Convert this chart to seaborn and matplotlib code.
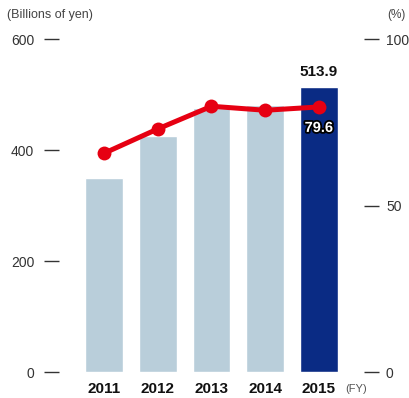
import numpy as np
import pandas as pd
import matplotlib
matplotlib.use("Agg")
import matplotlib.pyplot as plt
import matplotlib.patheffects as pe
import seaborn as sns

# Data
years = ["2011", "2012", "2013", "2014", "2015"]
sales = [349, 425, 476, 481, 513.9]          # billions of yen
ratio = [65.7, 73.0, 79.8, 78.6, 79.6]        # percent
left_ticks = [0, 200, 400, 600]
right_ticks = [0, 50, 100]

light_blue = "#b9ceda"
navy = "#0a2b84"
red = "#e60012"
tick_gray = "#333333"

sns.set_theme(style="white")
plt.rcParams["font.family"] = ["Liberation Sans", "DejaVu Sans"]
narrow = ["Liberation Sans Narrow", "Liberation Sans", "DejaVu Sans"]

df = pd.DataFrame({"year": years, "sales": sales, "ratio": ratio})
bar_colors = [light_blue] * (len(years) - 1) + [navy]

fig = plt.figure(figsize=(4.10, 3.98), dpi=100)
ax = fig.add_axes([0.1439, 0.0653, 0.8878 - 0.1439, 0.902 - 0.0653])

sns.barplot(data=df, x="year", y="sales", hue="year", palette=bar_colors,
            legend=False, width=0.7, saturation=1, ax=ax)
ax.set_ylim(0, 600)
ax.set_xlim(-0.84, len(years) - 1 + 0.84)
ax.set_yticks(left_ticks)
ax.set_yticklabels([str(t) for t in left_ticks])
ax.set_xlabel("")
ax.set_ylabel("")
for s in ax.spines.values():
    s.set_visible(False)
ax.tick_params(axis="y", left=True, direction="out", length=10.8, width=1.0,
               color=tick_gray, pad=7, labelsize=10, labelcolor=tick_gray)
ax.tick_params(axis="x", bottom=False, length=0, pad=7)
for lab in ax.get_xticklabels():
    lab.set_fontfamily(narrow)
    lab.set_fontweight("bold")
    lab.set_fontsize(11)
    lab.set_color("#111111")

# Ratio line on the secondary axis
ax2 = ax.twinx()
xpos = np.arange(len(years))
sns.lineplot(x=xpos, y=df["ratio"], color=red, linewidth=3.6, marker="o",
             markersize=10, markeredgewidth=0, ax=ax2)
ax2.set_ylim(0, 100)
ax2.set_xlim(ax.get_xlim())
ax2.set_yticks(right_ticks)
ax2.set_yticklabels([str(t) for t in right_ticks])
ax2.set_ylabel("")
for s in ax2.spines.values():
    s.set_visible(False)
ax2.tick_params(axis="y", right=True, direction="out", length=10.8, width=1.0,
                color=tick_gray, pad=5, labelsize=10, labelcolor=tick_gray)
ax2.grid(False)
ax.grid(False)

# Value labels for the latest year
last = len(years) - 1
ax.text(last, sales[last] + 14, f"{sales[last]:.1f}", ha="center", va="bottom",
        fontsize=11, fontweight="bold", color="#111111")
t = ax2.text(last, ratio[last] - 4.2, f"{ratio[last]:.1f}", ha="center", va="top",
             fontsize=10.5, fontweight="bold", color="white")
t.set_path_effects([pe.withStroke(linewidth=2.6, foreground="black")])

# Unit captions
fig.text(7 / 410, 1 - 15 / 398, "(Billions of yen)", ha="left", va="center",
         fontsize=9, color="#444444")
fig.text(387 / 410, 1 - 15 / 398, "(%)", ha="left", va="center",
         fontsize=8.5, color="#444444")
fig.text(345 / 410, 1 - 389 / 398, "(FY)", ha="left", va="center",
         fontsize=8, color="#555555", family=narrow)

fig.savefig("out.png", dpi=100)
